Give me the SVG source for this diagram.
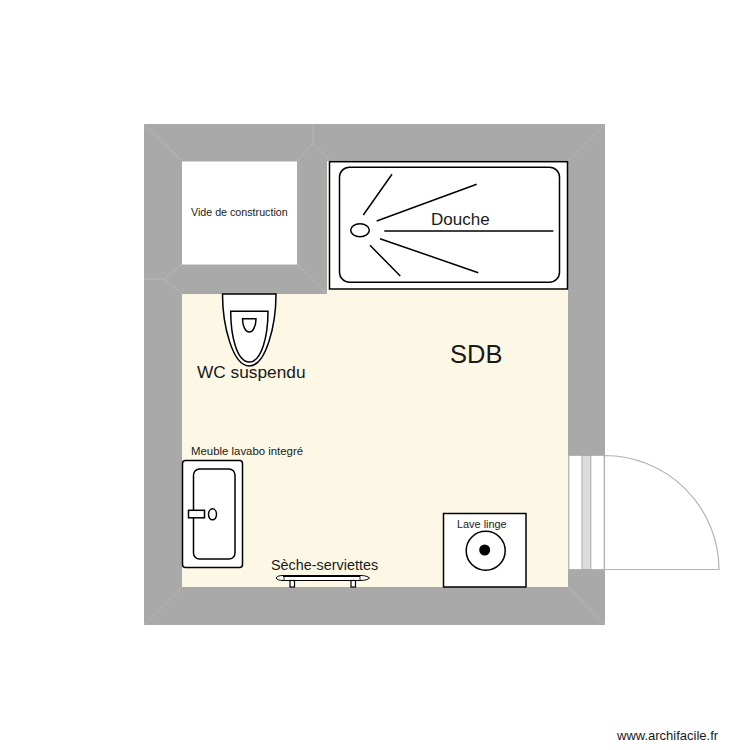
<svg xmlns="http://www.w3.org/2000/svg" width="750" height="750" viewBox="0 0 750 750">
<style>
text{font-family:"Liberation Sans",Arial,sans-serif;fill:#1a1a1a}
.w{fill:#a9a9a9;stroke:none}
.m{fill:none;stroke:#c4c4c4;stroke-width:.5}
.f{fill:#fff;stroke:#000;stroke-width:1.5}
.n{fill:none;stroke:#000;stroke-width:1.5}
.d{fill:#fff;stroke:#b4b4b4;stroke-width:1.2}
</style>
<rect width="750" height="750" fill="#fff"/>
<g id="walls">
<rect class="w" x="144" y="124" width="461" height="501"/>
<rect x="182" y="294" width="386" height="293" fill="#fcf8e5"/>
<rect x="327" y="161" width="241" height="133" fill="#fcf8e5"/>
<rect x="182" y="161.500" width="115" height="103" fill="#fff"/>
<g class="lines">
<path class="m" d="M144 124L182 161M313 124V143.500L297 161M313 143.500L330 161M605 124L568 161M605 625L568 587M144 625L182 587M144 279H164L182 264M164 279L182 294M297 264L327 294"/>
</g>
</g>
<g id="vide"><text x="191" y="216" font-size="10.700">Vide de construction</text></g>
<g id="douche">
<rect class="f" x="329.500" y="161.700" width="238" height="127.300"/>
<rect class="n" x="339.500" y="167.200" width="220" height="115" rx="10"/>
<ellipse class="n" cx="360" cy="230.300" rx="9.300" ry="6.500"/>
<path class="n" d="M392 174.300L363.300 215M376.700 221L476.700 184.300M384.300 231H553.300M380 238.700L478.300 272.700M370 245.300L400.300 276"/>
<text x="431" y="225" font-size="17">Douche</text>
</g>
<g id="wc">
<path class="f" d="M222.500 294H276C276 325 266 366 249.300 366C232.500 366 222.500 325 222.500 294Z"/>
<path class="n" d="M230.700 311.300H268C268 335 262 362 249.300 362C236.500 362 230.700 335 230.700 311.300Z"/>
<path class="n" d="M242.500 318.700H256C256 326 253 332 249.300 332C245.500 332 242.500 326 242.500 318.700Z"/>
<text x="197" y="378" font-size="17.300">WC suspendu</text>
</g>
<g id="sdb"><text x="450" y="363" font-size="25.500">SDB</text></g>
<g id="lavabo">
<text x="191" y="455" font-size="11.400">Meuble lavabo integré</text>
<rect class="f" x="182.500" y="460.500" width="60" height="107" rx="3"/>
<rect class="n" x="193.500" y="469" width="41.500" height="90" rx="6"/>
<rect class="f" x="188.500" y="510.300" width="16" height="7.500"/>
<ellipse class="n" cx="212.500" cy="514.300" rx="4" ry="5.500"/>
</g>
<g id="seche">
<text x="271" y="570" font-size="14.400">Sèche-serviettes</text>
<path d="M283 575.500H360C365 575.500 368 576.500 369.500 578C368 579.500 365 580.500 360 580.500H283C279 580.500 277 579.500 276 578C277 576.500 279 575.500 283 575.500Z" fill="#fff" stroke="#000" stroke-width="1"/>
<path d="M283 576H360" fill="none" stroke="#000" stroke-width="2.200"/>
<path d="M284 575V581M360 575V581" fill="none" stroke="#000" stroke-width=".8"/>
<rect x="290" y="580.500" width="4.500" height="6.500" fill="#fff" stroke="#000" stroke-width="1.200"/>
<rect x="351" y="580.500" width="4.500" height="6.500" fill="#fff" stroke="#000" stroke-width="1.200"/>
</g>
<g id="lave">
<rect class="f" x="443.500" y="513.500" width="82.500" height="73.500"/>
<circle class="n" cx="485.700" cy="550.700" r="19.500"/>
<circle cx="484.700" cy="550" r="5.500" fill="#000"/>
<text x="457" y="528" font-size="10.900">Lave linge</text>
</g>
<g id="porte">
<rect x="568.500" y="455.500" width="36" height="114" fill="#fff"/>
<path class="d" d="M604.500 455.500A114.500 114.500 0 0 1 719 569.500H604.500Z"/>
<path d="M568.800 455.500V569.500M604.300 455.500V569.500M568.800 455.500H604.300M568.800 569.500H604.300" fill="none" stroke="#b4b4b4" stroke-width="1.200"/>
<rect x="582" y="455.500" width="8.800" height="114" fill="#dcdcdc" stroke="#a9a9a9" stroke-width="1"/>
</g>
<g id="credit"><text x="617" y="740" font-size="13">www.archifacile.fr</text></g>
</svg>
